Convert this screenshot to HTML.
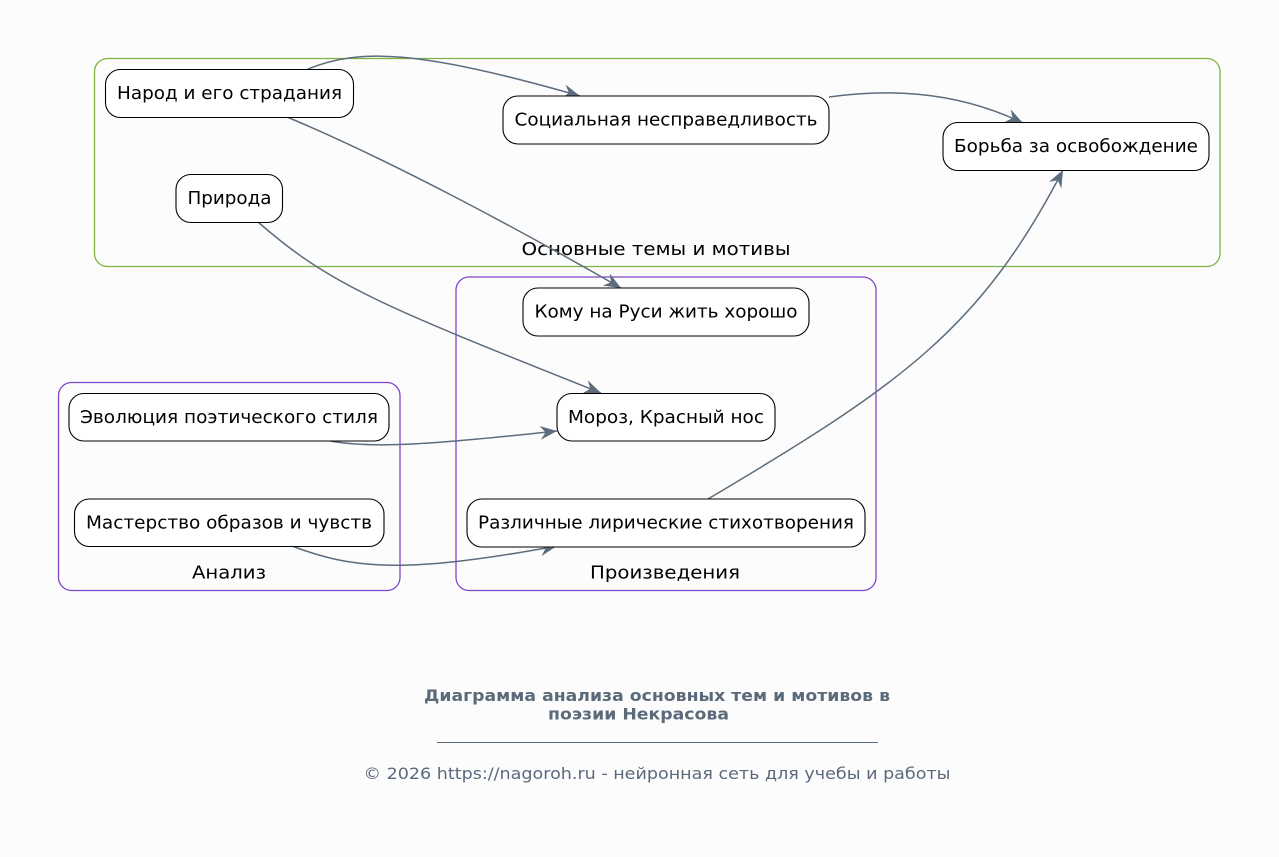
<!DOCTYPE html>
<html>
<head>
<meta charset="utf-8">
<style>
  html, body { margin: 0; padding: 0; background: #fcfcfc; }
  svg { display: block; }
  .node { fill: #ffffff; stroke: #000000; stroke-width: 1.1; }
  .nt { font-family: "DejaVu Sans", "Liberation Sans", sans-serif; font-size: 18px; fill: #000; }
  .edge { fill: none; stroke: #5d6d7e; stroke-width: 1.5; }
</style>
</head>
<body>
<svg width="1279" height="857" viewBox="0 0 1279 857" xmlns="http://www.w3.org/2000/svg">
  <defs>
    <marker id="arr" markerUnits="userSpaceOnUse" markerWidth="20" markerHeight="16" refX="17" refY="7.5" orient="auto">
      <path d="M0,0.5 L17,7.5 L0,14.5 L5.5,7.5 z" fill="#5d6d7e"/>
    </marker>
  </defs>
  <rect x="0" y="0" width="1279" height="857" fill="#fcfcfc"/>

  <!-- Clusters -->
  <rect x="94.5" y="58.5" width="1125.5" height="208" rx="13" ry="13" fill="none" stroke="#7cb342" stroke-width="1.3"/>
  <text class="nt" x="656" y="255" text-anchor="middle" textLength="269" lengthAdjust="spacingAndGlyphs">Основные темы и мотивы</text>

  <rect x="456" y="277" width="420" height="313.5" rx="13" ry="13" fill="none" stroke="#8045cc" stroke-width="1.3"/>
  <text class="nt" x="665" y="578.5" text-anchor="middle" textLength="150" lengthAdjust="spacingAndGlyphs">Произведения</text>

  <rect x="58.5" y="382.5" width="341.5" height="208" rx="13" ry="13" fill="none" stroke="#8045cc" stroke-width="1.3"/>
  <text class="nt" x="229" y="578.5" text-anchor="middle" textLength="74" lengthAdjust="spacingAndGlyphs">Анализ</text>

  <!-- Edges -->
  <path class="edge" d="M308,69 C360,48 420,50 580,96" marker-end="url(#arr)"/>
  <path class="edge" d="M287,117 C390,160 520,230 621,288" marker-end="url(#arr)"/>
  <path class="edge" d="M829,97 C880,90 950,88 1023,123" marker-end="url(#arr)"/>
  <path class="edge" d="M258,222 C330,285 380,305 601,393" marker-end="url(#arr)"/>
  <path class="edge" d="M330,441 C370,448 420,446 557,431" marker-end="url(#arr)"/>
  <path class="edge" d="M292,546 C350,568 400,575 557,546" marker-end="url(#arr)"/>
  <path class="edge" d="M708,499 C900,385 980,330 1063,170" marker-end="url(#arr)"/>

  <!-- Nodes -->
  <rect class="node" x="105.5" y="69.5" width="248" height="48" rx="15" ry="15"/>
  <text class="nt" x="229.5" y="99" text-anchor="middle" textLength="225" lengthAdjust="spacingAndGlyphs">Народ и его страдания</text>

  <rect class="node" x="503" y="96" width="326" height="48" rx="15" ry="15"/>
  <text class="nt" x="666" y="125.5" text-anchor="middle" textLength="303" lengthAdjust="spacingAndGlyphs">Социальная несправедливость</text>

  <rect class="node" x="943" y="122.5" width="266" height="48" rx="15" ry="15"/>
  <text class="nt" x="1076" y="152" text-anchor="middle" textLength="244" lengthAdjust="spacingAndGlyphs">Борьба за освобождение</text>

  <rect class="node" x="176" y="174.5" width="106.5" height="48" rx="15" ry="15"/>
  <text class="nt" x="229.5" y="204" text-anchor="middle" textLength="84" lengthAdjust="spacingAndGlyphs">Природа</text>

  <rect class="node" x="523" y="288" width="286" height="48" rx="15" ry="15"/>
  <text class="nt" x="666" y="317.5" text-anchor="middle" textLength="263" lengthAdjust="spacingAndGlyphs">Кому на Руси жить хорошо</text>

  <rect class="node" x="557" y="393.5" width="218" height="47.5" rx="15" ry="15"/>
  <text class="nt" x="666" y="423" text-anchor="middle" textLength="196" lengthAdjust="spacingAndGlyphs">Мороз, Красный нос</text>

  <rect class="node" x="467" y="499" width="398" height="48" rx="15" ry="15"/>
  <text class="nt" x="666" y="528.5" text-anchor="middle" textLength="376" lengthAdjust="spacingAndGlyphs">Различные лирические стихотворения</text>

  <rect class="node" x="69" y="393.5" width="320" height="47.5" rx="15" ry="15"/>
  <text class="nt" x="229" y="423" text-anchor="middle" textLength="298" lengthAdjust="spacingAndGlyphs">Эволюция поэтического стиля</text>

  <rect class="node" x="74.5" y="499" width="309.5" height="47.5" rx="15" ry="15"/>
  <text class="nt" x="229" y="528.5" text-anchor="middle" textLength="286" lengthAdjust="spacingAndGlyphs">Мастерство образов и чувств</text>

  <!-- Title -->
  <text x="657" y="701" text-anchor="middle" font-family="DejaVu Sans, Liberation Sans, sans-serif" font-size="16" font-weight="bold" fill="#5a6a7a" textLength="466" lengthAdjust="spacingAndGlyphs">Диаграмма анализа основных тем и мотивов в</text>
  <text x="638.5" y="719.5" text-anchor="middle" font-family="DejaVu Sans, Liberation Sans, sans-serif" font-size="16" font-weight="bold" fill="#5a6a7a" textLength="181" lengthAdjust="spacingAndGlyphs">поэзии Некрасова</text>
  <line x1="437" y1="742.5" x2="878" y2="742.5" stroke="#5a6a7a" stroke-width="1"/>
  <text x="657" y="779" text-anchor="middle" font-family="DejaVu Sans, Liberation Sans, sans-serif" font-size="16" fill="#5a6a7c" textLength="587" lengthAdjust="spacingAndGlyphs">© 2026 https://nagoroh.ru - нейронная сеть для учебы и работы</text>
</svg>
</body>
</html>
